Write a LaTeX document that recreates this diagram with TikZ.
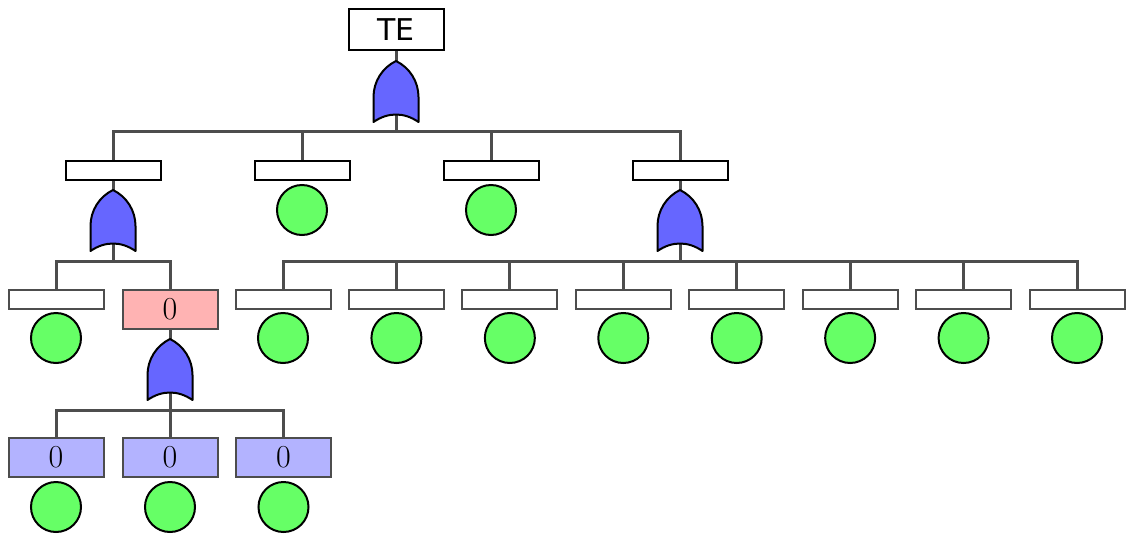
\documentclass[tikz,border=0pt]{standalone}
\usepackage{fontspec}
\newfontfamily\topfont{DejaVu Sans}
\usetikzlibrary{calc}
\definecolor{gateblue}{HTML}{6666FF}
\definecolor{leafgreen}{HTML}{66FF66}
\definecolor{hotpink}{HTML}{FFB3B3}
\definecolor{paleblue}{HTML}{B3B3FF}
\definecolor{wire}{HTML}{4D4D4D}

% OR gate: two circular arcs meeting in a point, concave base
\newcommand\orgate[1]{%
  \draw[gatebody]
    ($(#1.north)+(-22.5,61)$) -- ($(#1.north)+(-22.5,36)$)
    .. controls ($(#1.north)+(-22.5,20.7)$) and ($(#1.north)+(-13.8,6.7)$) .. (#1.north)
    .. controls ($(#1.north)+(13.8,6.7)$) and ($(#1.north)+(22.5,20.7)$) .. ($(#1.north)+(22.5,36)$)
    -- ($(#1.north)+(22.5,61)$)
    .. controls ($(#1.north)+(8,51)$) and ($(#1.north)+(-8,51)$) .. cycle;}

\begin{document}
\begin{tikzpicture}[x=1pt,y=-1pt,
  conn/.style={draw=wire,line width=3pt},
  topbox/.style={draw=black,line width=2pt,fill=white,minimum width=95pt,minimum height=41pt,inner sep=0pt,font=\topfont\fontsize{30}{30}\selectfont},
  midbox/.style={draw=black,line width=2pt,fill=white,minimum width=95pt,minimum height=19pt,inner sep=0pt},
  lowbox/.style={draw=wire,line width=2pt,fill=white,minimum width=95pt,minimum height=19pt,inner sep=0pt},
  valbox/.style={draw=wire,line width=2pt,minimum width=95pt,minimum height=39pt,inner sep=0pt,font=\fontsize{32}{32}\selectfont},
  leaf/.style={circle,draw=black,line width=2pt,fill=leafgreen,minimum size=50pt,inner sep=0pt},
  gatenode/.style={minimum width=45pt,minimum height=62pt,inner sep=0pt,outer sep=0pt},
  gatebody/.style={draw=black,line width=2pt,fill=gateblue,line join=round}]
\useasboundingbox (0,0) rectangle (1128,536);

% top event and its gate
\node[topbox] (te) at (396,29.5) {TE};
\node[gatenode] (g0) at (396,92) {};
\coordinate (j0) at (396,131);

% first level
\node[midbox] (b1) at (113,170) {};
\node[midbox] (b2) at (302,170) {};
\node[midbox] (b3) at (491,170) {};
\node[midbox] (b4) at (680,170) {};
\node[leaf] (c2) at (302,210) {};
\node[leaf] (c3) at (491,210) {};
\node[gatenode] (g1) at (113,221) {};
\node[gatenode] (g4) at (680,221) {};
\coordinate (j1) at (113,261);
\coordinate (j4) at (680,261);

% left branch
\node[lowbox] (e1) at (56,299) {};
\node[leaf] (ce1) at (56,338) {};
\node[valbox,fill=hotpink] (p) at (170,309) {0};
\node[gatenode] (gp) at (170,370) {};
\coordinate (jp) at (170,410);
\node[valbox,fill=paleblue] (q1) at (56,457.5) {0};
\node[valbox,fill=paleblue] (q2) at (170,457.5) {0};
\node[valbox,fill=paleblue] (q3) at (283.5,457.5) {0};
\node[leaf] (cq1) at (56,507) {};
\node[leaf] (cq2) at (170,507) {};
\node[leaf] (cq3) at (283.5,507) {};

% right branch: eight basic events
\foreach \k in {1,...,8}{
  \pgfmathsetmacro\xx{283+113.43*(\k-1)}
  \node[lowbox] (r\k) at (\xx,299) {};
  \node[leaf] (cr\k) at (\xx,338) {};
}

% connectors (the gate stems run under the gate bodies)
\draw[conn] (te.south) -- (g0.north);
\draw[conn] (g0.center) -- (j0);
\foreach \n in {b1,b2,b3,b4} \draw[conn] (j0) -| (\n.north);
\draw[conn] (b1.south) -- (g1.north);
\draw[conn] (g1.center) -- (j1);
\draw[conn] (j1) -| (e1.north);
\draw[conn] (j1) -| (p.north);
\draw[conn] (p.south) -- (gp.north);
\draw[conn] (gp.center) -- (jp);
\foreach \n in {q1,q2,q3} \draw[conn] (jp) -| (\n.north);
\draw[conn] (b4.south) -- (g4.north);
\draw[conn] (g4.center) -- (j4);
\foreach \k in {1,...,8} \draw[conn] (j4) -| (r\k.north);

% gates on top
\orgate{g0}
\orgate{g1}
\orgate{g4}
\orgate{gp}
\end{tikzpicture}
\end{document}
